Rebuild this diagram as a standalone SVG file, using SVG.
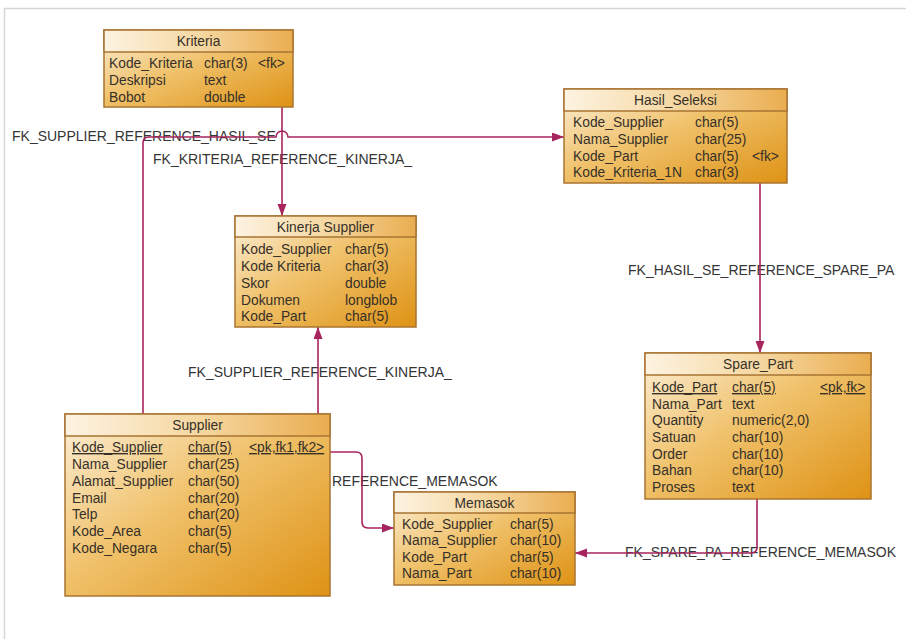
<svg xmlns="http://www.w3.org/2000/svg" width="906" height="639" viewBox="0 0 906 639">
<style>
.box{stroke:#a87432;stroke-width:1.5;fill:url(#g)}
.hdr{stroke:#a87432;stroke-width:1.5;fill:url(#gh)}
.t{font-family:"Liberation Sans",Arial,sans-serif;font-size:13.8px;fill:#363029}
.tt{font-family:"Liberation Sans",Arial,sans-serif;font-size:13.8px;fill:#363029;text-anchor:middle}
.u{text-decoration:underline}
.lbl{font-family:"Liberation Sans",Arial,sans-serif;font-size:14px;fill:#353535}
.c{fill:none;stroke:#a8245e;stroke-width:1.6}
</style>
<defs>
<linearGradient id="g" x1="0" y1="0" x2="1" y2="1">
<stop offset="0" stop-color="#fcefd8"/>
<stop offset="0.45" stop-color="#f0c26c"/>
<stop offset="1" stop-color="#de9214"/>
</linearGradient>
<linearGradient id="gh" x1="0" y1="0" x2="1" y2="0">
<stop offset="0" stop-color="#fdf3e2"/>
<stop offset="0.5" stop-color="#f5d8a2"/>
<stop offset="1" stop-color="#eaad50"/>
</linearGradient>
<marker id="ah" markerUnits="userSpaceOnUse" markerWidth="13" markerHeight="10" refX="12" refY="4.5" orient="auto">
<path d="M0,0 L12,4.5 L0,9 z" fill="#a8245e"/>
</marker>
</defs>
<rect x="0" y="0" width="906" height="639" fill="#ffffff"/>
<rect x="4.5" y="8.5" width="930" height="660" fill="none" stroke="#d6d6d6" stroke-width="1.5"/>

<g id="labels">
<text class="lbl" x="12" y="141">FK_SUPPLIER_REFERENCE_HASIL_SE</text>
<text class="lbl" x="153" y="164">FK_KRITERIA_REFERENCE_KINERJA_</text>
<text class="lbl" x="188" y="377">FK_SUPPLIER_REFERENCE_KINERJA_</text>
<text class="lbl" x="332" y="486">REFERENCE_MEMASOK</text>
<text class="lbl" x="628" y="275">FK_HASIL_SE_REFERENCE_SPARE_PA</text>
<text class="lbl" x="625" y="557">FK_SPARE_PA_REFERENCE_MEMASOK</text>
</g>

<g id="connectors">
<path class="c" d="M282,107 V216" marker-end="url(#ah)"/>
<path class="c" d="M143,414 V143 Q143,137 149,137 H276 A6,6 0 0 1 288,137 H564" marker-end="url(#ah)"/>
<path class="c" d="M318,414 V327" marker-end="url(#ah)"/>
<path class="c" d="M330,452 H356 Q362,452 362,458 V522 Q362,528 368,528 H394" marker-end="url(#ah)"/>
<path class="c" d="M760,183 V353" marker-end="url(#ah)"/>
<path class="c" d="M757,499 V547 Q757,553 751,553 H575" marker-end="url(#ah)"/>
</g>

<g id="kriteria">
<rect class="box" x="104" y="30" width="189" height="77"/>
<rect class="hdr" x="104" y="30" width="189" height="22"/>
<text class="tt" x="198.5" y="46">Kriteria</text>
<text class="t" x="109" y="68">Kode_Kriteria</text><text class="t" x="204" y="68">char(3)</text><text class="t" x="258" y="68">&lt;fk&gt;</text>
<text class="t" x="109" y="85">Deskripsi</text><text class="t" x="204" y="85">text</text>
<text class="t" x="109" y="102">Bobot</text><text class="t" x="204" y="102">double</text>
</g>

<g id="hasil_seleksi">
<rect class="box" x="564" y="89" width="223" height="94"/>
<rect class="hdr" x="564" y="89" width="223" height="22"/>
<text class="tt" x="675.5" y="105">Hasil_Seleksi</text>
<text class="t" x="573" y="127">Kode_Supplier</text><text class="t" x="695" y="127">char(5)</text>
<text class="t" x="573" y="144">Nama_Supplier</text><text class="t" x="695" y="144">char(25)</text>
<text class="t" x="573" y="161">Kode_Part</text><text class="t" x="695" y="161">char(5)</text><text class="t" x="752" y="161">&lt;fk&gt;</text>
<text class="t" x="573" y="177">Kode_Kriteria_1N</text><text class="t" x="695" y="177">char(3)</text>
</g>

<g id="kinerja_supplier">
<rect class="box" x="235" y="216" width="181" height="111"/>
<rect class="hdr" x="235" y="216" width="181" height="21"/>
<text class="tt" x="325.5" y="232">Kinerja Supplier</text>
<text class="t" x="241" y="254">Kode_Supplier</text><text class="t" x="345" y="254">char(5)</text>
<text class="t" x="241" y="271">Kode Kriteria</text><text class="t" x="345" y="271">char(3)</text>
<text class="t" x="241" y="288">Skor</text><text class="t" x="345" y="288">double</text>
<text class="t" x="241" y="305">Dokumen</text><text class="t" x="345" y="305">longblob</text>
<text class="t" x="241" y="321">Kode_Part</text><text class="t" x="345" y="321">char(5)</text>
</g>

<g id="supplier">
<rect class="box" x="65" y="414" width="265" height="182"/>
<rect class="hdr" x="65" y="414" width="265" height="22"/>
<text class="tt" x="197.5" y="430">Supplier</text>
<text class="t u" x="72" y="452">Kode_Supplier</text><text class="t u" x="188" y="452">char(5)</text><text class="t u" x="249" y="452">&lt;pk,fk1,fk2&gt;</text>
<text class="t" x="72" y="469">Nama_Supplier</text><text class="t" x="188" y="469">char(25)</text>
<text class="t" x="72" y="486">Alamat_Supplier</text><text class="t" x="188" y="486">char(50)</text>
<text class="t" x="72" y="503">Email</text><text class="t" x="188" y="503">char(20)</text>
<text class="t" x="72" y="519">Telp</text><text class="t" x="188" y="519">char(20)</text>
<text class="t" x="72" y="536">Kode_Area</text><text class="t" x="188" y="536">char(5)</text>
<text class="t" x="72" y="553">Kode_Negara</text><text class="t" x="188" y="553">char(5)</text>
</g>

<g id="memasok">
<rect class="box" x="394" y="492" width="181" height="93"/>
<rect class="hdr" x="394" y="492" width="181" height="21"/>
<text class="tt" x="484.5" y="508">Memasok</text>
<text class="t" x="402" y="529">Kode_Supplier</text><text class="t" x="510" y="529">char(5)</text>
<text class="t" x="402" y="545">Nama_Supplier</text><text class="t" x="510" y="545">char(10)</text>
<text class="t" x="402" y="562">Kode_Part</text><text class="t" x="510" y="562">char(5)</text>
<text class="t" x="402" y="578">Nama_Part</text><text class="t" x="510" y="578">char(10)</text>
</g>

<g id="spare_part">
<rect class="box" x="645" y="353" width="226" height="146"/>
<rect class="hdr" x="645" y="353" width="226" height="22"/>
<text class="tt" x="758" y="369">Spare_Part</text>
<text class="t u" x="652" y="392">Kode_Part</text><text class="t u" x="732" y="392">char(5)</text><text class="t u" x="820" y="392">&lt;pk,fk&gt;</text>
<text class="t" x="652" y="409">Nama_Part</text><text class="t" x="732" y="409">text</text>
<text class="t" x="652" y="425">Quantity</text><text class="t" x="732" y="425">numeric(2,0)</text>
<text class="t" x="652" y="442">Satuan</text><text class="t" x="732" y="442">char(10)</text>
<text class="t" x="652" y="459">Order</text><text class="t" x="732" y="459">char(10)</text>
<text class="t" x="652" y="475">Bahan</text><text class="t" x="732" y="475">char(10)</text>
<text class="t" x="652" y="492">Proses</text><text class="t" x="732" y="492">text</text>
</g>
</svg>
